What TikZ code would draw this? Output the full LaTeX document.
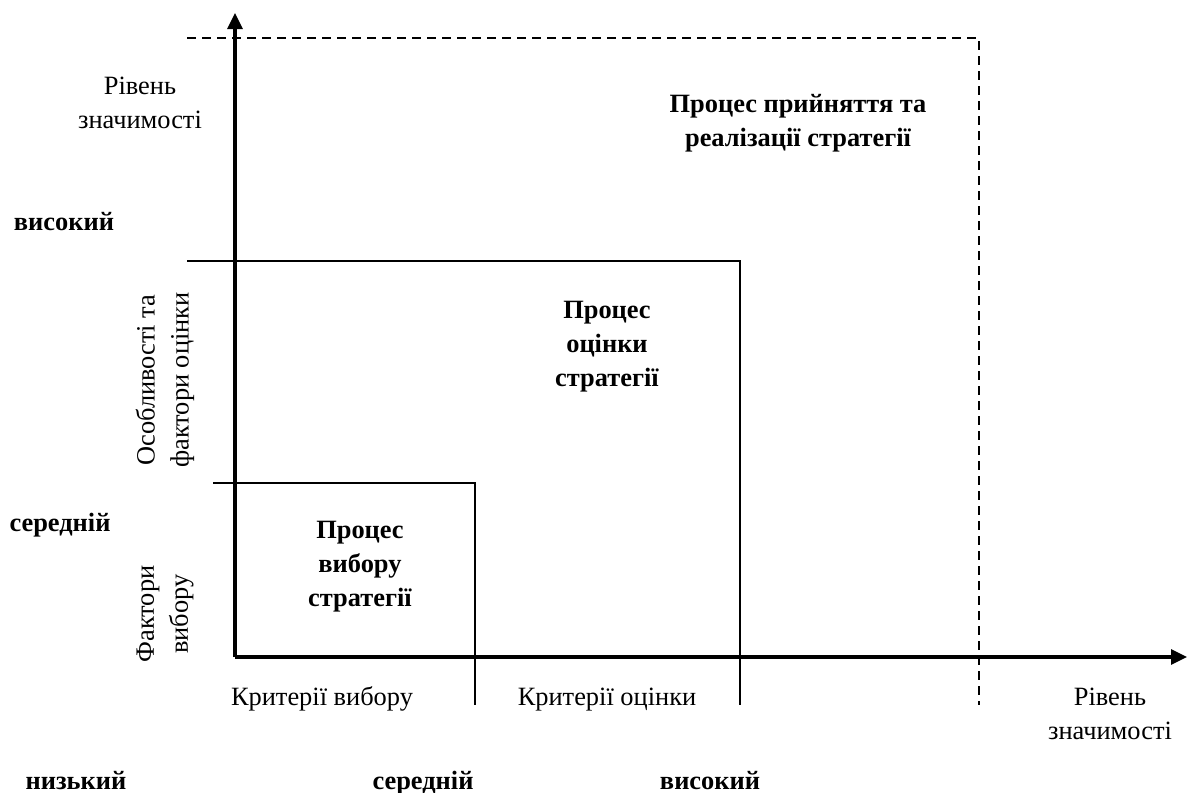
\documentclass[tikz,border=0pt]{standalone}
\usepackage{fontspec}
\setmainfont{Liberation Serif}
\usetikzlibrary{arrows.meta}
\tikzset{
  axisline/.style={line width=3.2pt,-{Triangle[length=16pt,width=15pt]}},
  boxline/.style={line width=2.6pt},
  thinline/.style={line width=1.4pt},
  dashline/.style={line width=2pt,dash pattern=on 9pt off 6pt},
  lbl/.style={inner sep=0pt,align=center,font=\fontsize{26.4}{34}\selectfont},
  blbl/.style={lbl,font=\fontsize{26.4}{34}\selectfont\bfseries},
}
\begin{document}
\begin{tikzpicture}[x=1pt,y=-1pt]
\useasboundingbox (0,0) rectangle (1187,793);
% coordinates
\coordinate (O) at (235,657);
\coordinate (Ytop) at (235,13);
\coordinate (Xend) at (1187,657);
\coordinate (d1) at (187,38);
\coordinate (d2) at (979,38);
\coordinate (d3) at (979,705);
\coordinate (m1) at (187,261);
\coordinate (m2) at (740,261);
\coordinate (m3) at (740,657);
\coordinate (m4) at (740,705);
\coordinate (s1) at (213,483);
\coordinate (s2) at (475,483);
\coordinate (s3) at (475,705);
% lines
\draw[dashline] (d1) -- (d2) -- (d3);
\draw[boxline] (m1) -- (m2) -- (m3);
\draw[thinline] (m3) -- (m4);
\draw[boxline] (s1) -- (s2) -- (s3);
\draw[axisline] (O) -- (Ytop);
\draw[axisline] (O) -- (Xend);
% labels
\node[lbl] (rz1) at (140,103) {Рівень\\значимості};
\node[blbl] (vys1) at (64,222) {високий};
\node[lbl,rotate=90] (osob) at (165,380) {Особливості та\\фактори оцінки};
\node[blbl,anchor=base] (ser1) at (60,531) {середній};
\node[lbl,rotate=90] (fakt) at (165,614) {Фактори\\вибору};
\node[blbl] (pv) at (360,567) {Процес\\вибору\\стратегії};
\node[blbl] (po) at (607,347) {Процес\\оцінки\\стратегії};
\node[blbl] (pp) at (798,123) {Процес прийняття та\\реалізації стратегії};
\node[lbl,anchor=base] (kv) at (322,705) {Критерії вибору};
\node[lbl,anchor=base] (ko) at (607,705) {Критерії оцінки};
\node[lbl] (rz2) at (1110,714) {Рівень\\значимості};
\node[blbl,anchor=base] (niz) at (76,789) {низький};
\node[blbl,anchor=base] (ser2) at (423,789) {середній};
\node[blbl,anchor=base] (vys2) at (710,789) {високий};
\end{tikzpicture}
\end{document}
